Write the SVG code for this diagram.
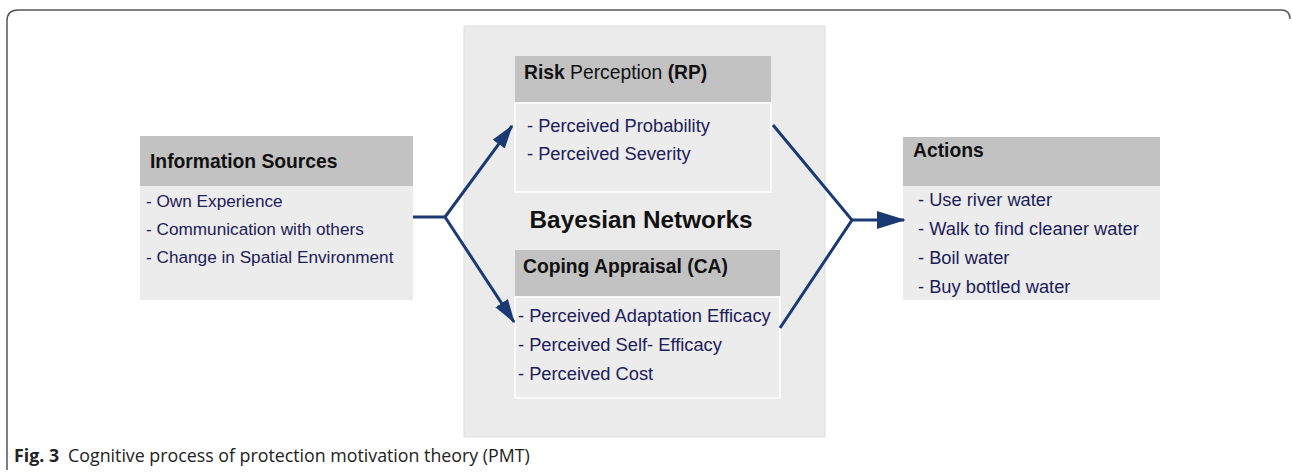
<svg xmlns="http://www.w3.org/2000/svg" width="1292" height="474" viewBox="0 0 1292 474">
<style>
.hdr{fill:#c2c2c2}
.body{fill:#ececec}
.t{font-family:"Liberation Sans",Arial,sans-serif}
.h{font-family:"Liberation Sans",Arial,sans-serif;font-weight:bold;font-size:19.3px;fill:#111}
.it{font-family:"Liberation Sans",Arial,sans-serif;font-size:18.3px;fill:#1c2058}
.sm{font-size:17.2px}
.con{fill:none;stroke:#1b3a73;stroke-width:3;stroke-linejoin:miter}
.cap{font-family:"Open Sans","Noto Sans",sans-serif;font-size:17.8px;fill:#222}
</style>
<defs>
<marker id="ah" viewBox="0 0 16 10" refX="15" refY="5" markerWidth="8" markerHeight="5.5" markerUnits="strokeWidth" orient="auto">
<path d="M0,0 L16,5 L0,10 z" fill="#1b3a73"/>
</marker>
<marker id="ah2" viewBox="0 0 16 10" refX="15" refY="5" markerWidth="10" markerHeight="6" markerUnits="strokeWidth" orient="auto">
<path d="M0,0 L16,5 L0,10 z" fill="#1b3a73"/>
</marker>
</defs>
<rect width="1292" height="474" fill="#fff"/>
<path d="M7,470 L7,21 Q7,10 18,10 L1281,10 Q1290,10 1290,19" fill="none" stroke="#555" stroke-width="1.5"/>
<g id="bayesian">
<rect x="464" y="26" width="361" height="411" fill="#ebebeb" stroke="#dedede" stroke-width="1"/>
<text class="t" x="641" y="228" text-anchor="middle" font-size="24.3" font-weight="bold" fill="#111">Bayesian Networks</text>
</g>
<g id="info">
<rect class="hdr" x="140" y="136" width="273" height="50"/>
<rect class="body" x="140" y="186" width="273" height="114"/>
<text class="h" x="150" y="168">Information Sources</text>
<text class="it sm" x="146" y="207">- Own Experience</text>
<text class="it sm" x="146" y="235">- Communication with others</text>
<text class="it sm" x="146" y="263">- Change in Spatial Environment</text>
</g>
<g id="rp">
<rect class="hdr" x="515" y="56" width="256" height="46"/>
<rect class="body" x="515" y="103" width="256" height="89" stroke="#fff" stroke-width="1.5"/>
<text class="h" x="524" y="79">Risk <tspan font-weight="normal">Perception</tspan> (RP)</text>
<text class="it" x="527" y="132">- Perceived Probability</text>
<text class="it" x="527" y="160">- Perceived Severity</text>
</g>
<g id="ca">
<rect class="hdr" x="515" y="250" width="265" height="46"/>
<rect class="body" x="515" y="297" width="265" height="101" stroke="#fff" stroke-width="1.5"/>
<text class="h" x="523" y="273">Coping Appraisal (CA)</text>
<text class="it" x="518" y="322">- Perceived Adaptation Efficacy</text>
<text class="it" x="518" y="351">- Perceived Self- Efficacy</text>
<text class="it" x="518" y="380">- Perceived Cost</text>
</g>
<g id="actions">
<rect class="hdr" x="903" y="137" width="257" height="49"/>
<rect class="body" x="903" y="186" width="257" height="114"/>
<text class="h" x="913" y="157">Actions</text>
<text class="it" x="918" y="206">- Use river water</text>
<text class="it" x="918" y="235">- Walk to find cleaner water</text>
<text class="it" x="918" y="264">- Boil water</text>
<text class="it" x="918" y="293">- Buy bottled water</text>
</g>
<g id="connectors">
<path class="con" d="M413,217 L445,217"/>
<path class="con" d="M445,217 L512,126" marker-end="url(#ah)"/>
<path class="con" d="M445,217 L514,322" marker-end="url(#ah)"/>
<path class="con" d="M773,125 L852,220 L780,328"/>
<path class="con" d="M852,220 L904,220" marker-end="url(#ah2)"/>
</g>
<g id="caption">
<text class="cap" x="14" y="462"><tspan font-weight="bold">Fig. 3</tspan><tspan dx="9">Cognitive process of protection motivation theory (PMT)</tspan></text>
</g>
</svg>
